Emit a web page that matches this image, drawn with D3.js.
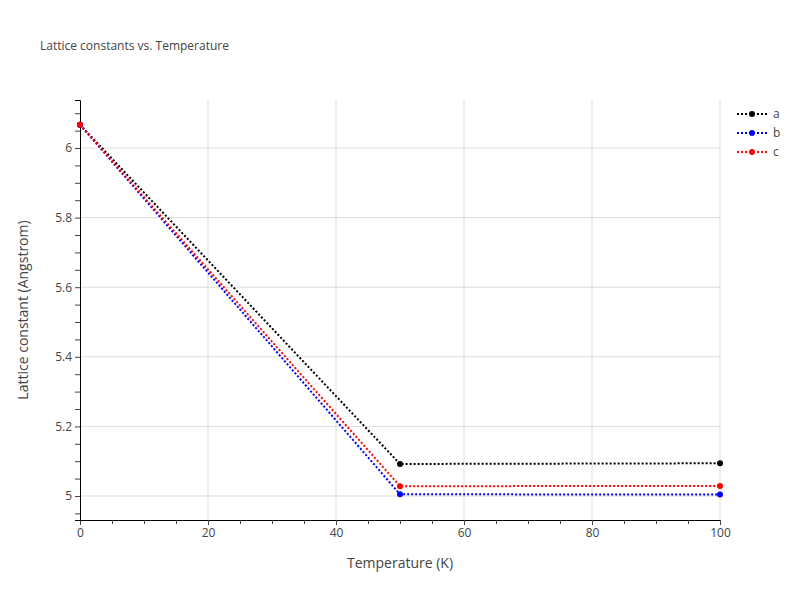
<!DOCTYPE html>
<html><head><meta charset="utf-8">
<script src="https://cdn.jsdelivr.net/npm/d3@7"></script>
<style>body{margin:0;background:#fff}text{font-family:"Open Sans",sans-serif}</style>
</head><body>
<script>
var temps=[0,50,100];
var seriesNames=['a','b','c'];
var seriesColors=['black','blue','red'];
var valsA=[6.067,5.092,5.094];
var valsB=[6.067,5.005,5.004];
var valsC=[6.067,5.028,5.029];
var series=[valsA,valsB,valsC];
var xTicks=[0,20,40,60,80,100];
var yTicks=[5,5.2,5.4,5.6,5.8,6];

var wid=800,hgh=600;
var svg=d3.select('body').append('svg').attr('width',wid).attr('height',hgh);
var x=d3.scaleLinear().domain([0,100]).range([80,720]);
var y=d3.scaleLinear().domain([4.931,6.138]).range([520,100]);

// grid
svg.append('g').selectAll('line').data(xTicks.slice(1)).join('line')
 .attr('x1',d=>x(d)).attr('x2',d=>x(d)).attr('y1',100).attr('y2',520)
 .attr('stroke','#ddd');
svg.append('g').selectAll('line').data(yTicks).join('line')
 .attr('x1',80).attr('x2',720).attr('y1',d=>y(d)).attr('y2',d=>y(d))
 .attr('stroke','#ddd');

// axes
var xa=svg.append('g').attr('transform','translate(0,520)')
 .call(d3.axisBottom(x).tickValues(d3.range(0,101,5)).tickSize(5).tickFormat(d=>xTicks.includes(d)?d:''));
var ya=svg.append('g').attr('transform','translate(80,0)')
 .call(d3.axisLeft(y).tickValues(d3.range(4.95,6.13,0.05)).tickSize(5)
 .tickFormat(d=>{var r=Math.round(d*10)/10;return (Math.abs(d-r)<1e-6&&Math.round(d*10)%2==0)?d3.format('~g')(r):'';}));
[xa,ya].forEach(g=>{g.selectAll('text').attr('fill','#444').style('font-size','12px');g.select('.domain').attr('stroke','#000');g.selectAll('.tick line').attr('stroke','#444');});
xa.selectAll('.tick').filter(d=>!xTicks.includes(d)).select('line').attr('y2',4);

var line=d3.line().x((d,i)=>x(temps[i])).y(d=>y(d));
series.forEach((s,k)=>{
 svg.append('path').attr('d',line(s)).attr('fill','none').attr('stroke',seriesColors[k])
  .attr('stroke-width',2).attr('stroke-dasharray','2,2');
 svg.append('g').selectAll('circle').data(s).join('circle')
  .attr('cx',(d,i)=>x(temps[i])).attr('cy',d=>y(d)).attr('r',3).attr('fill',seriesColors[k]);
});

// legend
seriesNames.forEach((n,k)=>{
 var g=svg.append('g').attr('transform','translate(737,'+(114+k*19)+')');
 g.append('line').attr('x1',0).attr('x2',30).attr('stroke',seriesColors[k]).attr('stroke-width',2).attr('stroke-dasharray','2,2');
 g.append('circle').attr('cx',15).attr('r',3).attr('fill',seriesColors[k]);
 g.append('text').attr('x',36).attr('y',4).text(n).style('font-size','12px').attr('fill','#444');
});

svg.append('text').attr('x',40).attr('y',50).text('Lattice constants vs. Temperature').style('font-size','12px').attr('fill','#444');
svg.append('text').attr('x',400).attr('y',568).attr('text-anchor','middle').text('Temperature (K)').style('font-size','14px').attr('fill','#444');
svg.append('text').attr('transform','translate(28,310) rotate(-90)').attr('text-anchor','middle').text('Lattice constant (Angstrom)').style('font-size','14px').attr('fill','#444');
</script>
</body></html>
